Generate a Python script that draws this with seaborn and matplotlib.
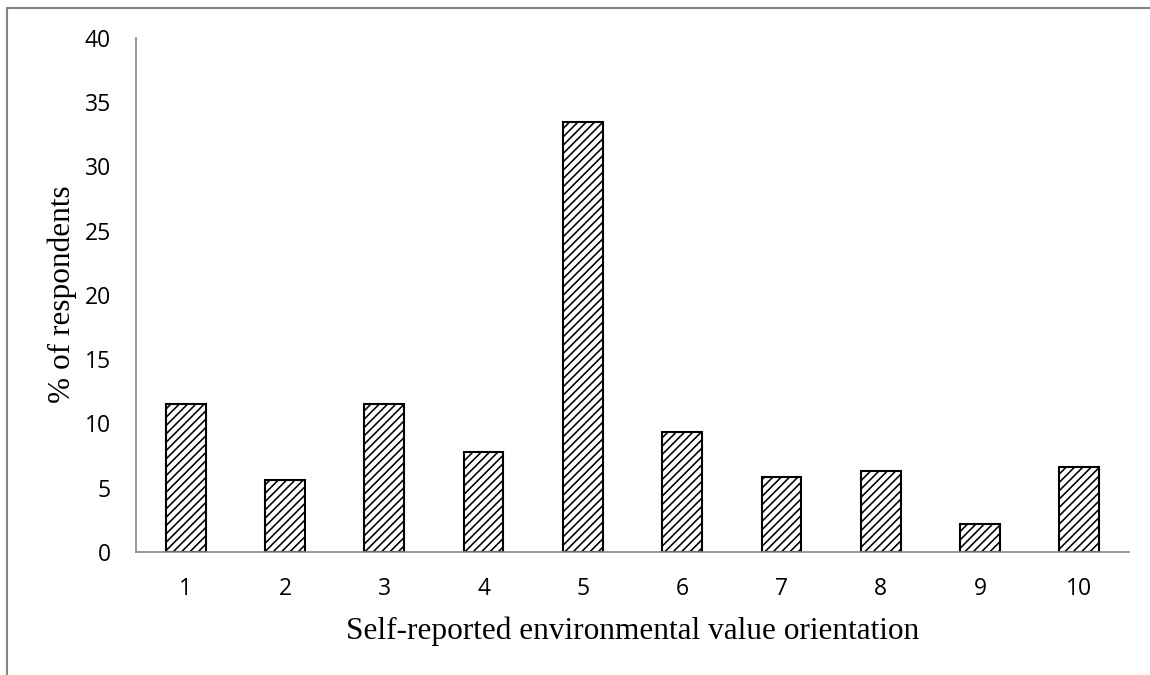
import numpy as np
import pandas as pd
import seaborn as sns
import matplotlib.pyplot as plt
from matplotlib.lines import Line2D

# values
orientation = ['1', '2', '3', '4', '5', '6', '7', '8', '9', '10']
pct_respondents = [11.5, 5.6, 11.5, 7.8, 33.5, 9.3, 5.85, 6.3, 2.2, 6.6]
y_ticks = [0, 5, 10, 15, 20, 25, 30, 35, 40]

df = pd.DataFrame({'orientation': orientation, 'pct': pct_respondents})

sns.set_style('white')
plt.rcParams['hatch.color'] = '#404040'
plt.rcParams['hatch.linewidth'] = 1.15

fig = plt.figure(figsize=(11.5, 6.75), dpi=100)
ax = fig.add_axes([136 / 1150, 123 / 675, 993 / 1150, 514 / 675])

sns.barplot(data=df, x='orientation', y='pct', color='white', edgecolor='black',
            linewidth=1.5, width=0.4, hatch='////', ax=ax)

ax.set_ylim(0, 40)
ax.set_xlim(-0.5, len(orientation) - 0.5)
ax.set_yticks(y_ticks)
ax.set_yticklabels([str(t) for t in y_ticks], family='Open Sans', fontsize=16.5, color='black')
ax.set_xticks(range(len(orientation)))
ax.set_xticklabels(orientation, family='Open Sans', fontsize=16.5, color='black')
ax.set_xticks(np.arange(-0.5, len(orientation), 1.0), minor=True)
ax.tick_params(axis='x', which='major', length=0, pad=18)
ax.tick_params(axis='x', which='minor', length=8, width=1.2, color='#868686', direction='out')
ax.tick_params(axis='y', length=7, width=1.2, color='#868686', direction='out', pad=11)

for s in ['top', 'right']:
    ax.spines[s].set_visible(False)
for s in ['left', 'bottom']:
    ax.spines[s].set_color('#868686')
    ax.spines[s].set_linewidth(1.2)

ax.set_xlabel('Self-reported environmental value orientation', family='Liberation Serif',
              fontsize=22.5, va='center', color='black')
ax.set_ylabel('% of respondents', family='Liberation Serif', fontsize=22.5,
              va='center', ha='center', color='black')
ax.xaxis.set_label_coords(0.5, -0.155)
ax.yaxis.set_label_coords(-0.074, 0.502)

# outer frame (left and top edges visible)
fig.add_artist(Line2D([7 / 1150, 7 / 1150], [0, 1 - 8 / 675], color='#868686', lw=1.5,
                      transform=fig.transFigure))
fig.add_artist(Line2D([7 / 1150, 1], [1 - 8 / 675, 1 - 8 / 675], color='#868686', lw=1.5,
                      transform=fig.transFigure))

fig.savefig('out.png', dpi=100, facecolor='white')
